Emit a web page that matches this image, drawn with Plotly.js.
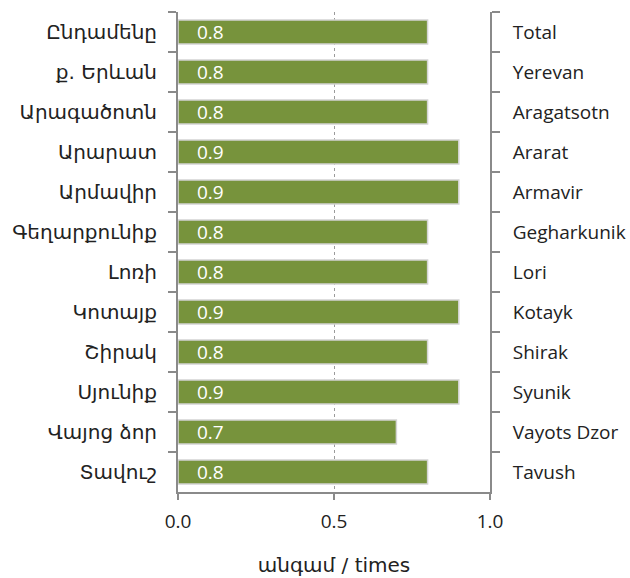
<!DOCTYPE html>
<html><head><meta charset="utf-8">
<script src="https://cdn.plot.ly/plotly-3.0.1.min.js"></script>
<style>body{margin:0;background:#fff}#c{width:630px;height:578px}</style>
</head><body><div id="c"></div>
<script>
const regionsHy = ["Ընդամենը","ք. Երևան","Արագածոտն","Արարատ","Արմավիր","Գեղարքունիք","Լոռի","Կոտայք","Շիրակ","Սյունիք","Վայոց ձոր","Տավուշ"];
const regionsEn = ["Total","Yerevan","Aragatsotn","Ararat","Armavir","Gegharkunik","Lori","Kotayk","Shirak","Syunik","Vayots Dzor","Tavush"];
const values = [0.8,0.8,0.8,0.9,0.9,0.8,0.8,0.9,0.8,0.9,0.7,0.8];
const xTicks = [0, 0.5, 1.0];
const xTitle = "անգամ / times";

const font = "'DejaVu Sans', 'Noto Sans', sans-serif";
const latin = "'Open Sans', Lato, 'DejaVu Sans', sans-serif";
const axisColor = "#8a8a8a";

const traces = [
  {type:"bar", orientation:"h", x:values, y:regionsHy, yaxis:"y",
   width:0.6,
   marker:{color:"#77933C", line:{color:"#d4d4d4", width:1.5}},
   hoverinfo:"none"},
  {type:"bar", orientation:"h", x:values, y:regionsEn, yaxis:"y2",
   width:0.6, marker:{color:"rgba(0,0,0,0)"}, hoverinfo:"none"}
];

const annotations = values.map((v,i)=>({
  x:0, y:regionsHy[i], xref:"x", yref:"y", text:v.toFixed(1),
  xanchor:"left", xshift:17, showarrow:false,
  font:{family:latin, size:19, color:"#ffffff"}
}));

const layout = {
  width:630, height:578,
  margin:{l:178, r:140, t:12, b:86},
  paper_bgcolor:"#fff", plot_bgcolor:"#fff",
  showlegend:false,
  bargap:0.4,
  xaxis:{range:[0,1], tickvals:xTicks, tickformat:".1f",
    showgrid:true, gridcolor:"#9a9a9a", griddash:"dot", gridwidth:1,
    zeroline:false, showline:true, linecolor:axisColor, linewidth:2,
    ticks:"outside", ticklen:6, tickcolor:axisColor, tickwidth:1.5,
    ticklabelstandoff:5,
    tickfont:{family:latin, size:19, color:"#222"},
    title:{text:xTitle, font:{family:font, size:20, color:"#222"}, standoff:25}},
  yaxis:{type:"category", categoryarray:regionsHy, range:[11.5,-0.5],
    showgrid:false, zeroline:false, showline:true, linecolor:axisColor, linewidth:2,
    ticks:"outside", tickson:"boundaries", ticklen:8, tickcolor:axisColor, tickwidth:1.5,
    ticklabelstandoff:15,
    tickfont:{family:font, size:20, color:"#222"}},
  yaxis2:{type:"category", categoryarray:regionsEn, range:[11.5,-0.5], overlaying:"y", side:"right",
    showgrid:false, zeroline:false, showline:true, linecolor:axisColor, linewidth:2,
    ticks:"outside", tickson:"boundaries", ticklen:8, tickcolor:axisColor, tickwidth:1.5,
    ticklabelstandoff:17,
    tickfont:{family:latin, size:19, color:"#222"}},
  annotations:annotations
};
Plotly.newPlot("c", traces, layout, {displayModeBar:false, staticPlot:true});
</script></body></html>
